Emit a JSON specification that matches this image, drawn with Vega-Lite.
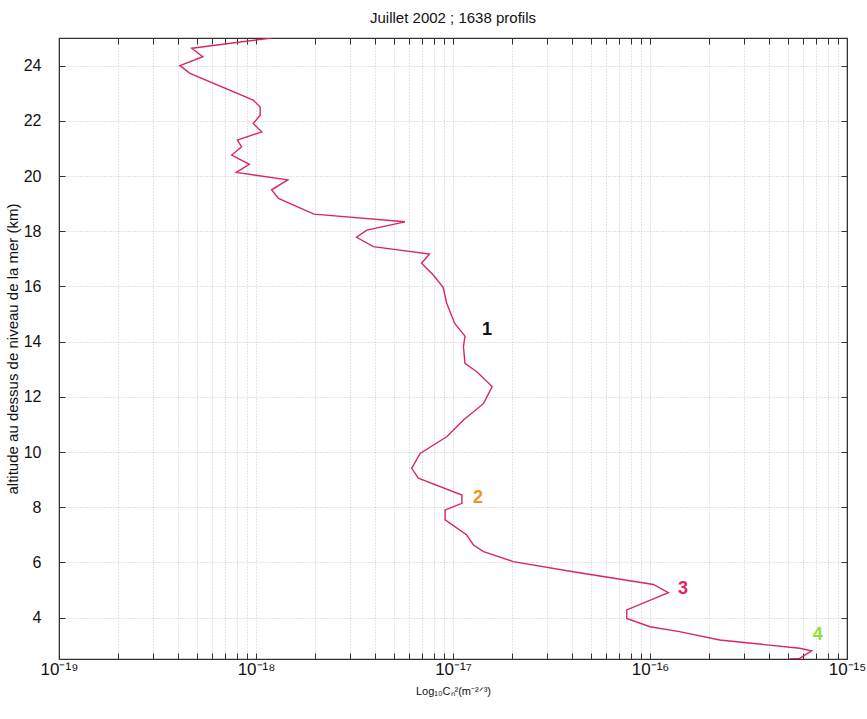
{
  "$schema": "https://vega.github.io/schema/vega-lite/v6.json",
  "autosize": "none",
  "width": 788,
  "height": 621,
  "padding": {"left": 59, "top": 38, "right": 20, "bottom": 60},
  "background": "white",
  "config": {
    "font": "Liberation Sans",
    "view": {"stroke": "#333333", "strokeWidth": 1.2}
  },
  "title": {"text": "Juillet 2002 ; 1638 profils", "fontSize": 15, "fontWeight": "normal", "font": "Liberation Sans", "offset": 12, "color": "#111"},
  "datasets": {
    "profil": [
      {"i": 1, "alt": 25.0, "c2n": 1.2e-18},
      {"i": 2, "alt": 24.63, "c2n": 4.72e-19},
      {"i": 3, "alt": 24.32, "c2n": 5.37e-19},
      {"i": 4, "alt": 24.0, "c2n": 4.11e-19},
      {"i": 5, "alt": 23.72, "c2n": 4.62e-19},
      {"i": 6, "alt": 22.75, "c2n": 9.68e-19},
      {"i": 7, "alt": 22.5, "c2n": 1.05e-18},
      {"i": 8, "alt": 22.2, "c2n": 1.05e-18},
      {"i": 9, "alt": 21.9, "c2n": 9.68e-19},
      {"i": 10, "alt": 21.6, "c2n": 1.07e-18},
      {"i": 11, "alt": 21.3, "c2n": 8.04e-19},
      {"i": 12, "alt": 21.06, "c2n": 8.45e-19},
      {"i": 13, "alt": 20.76, "c2n": 7.53e-19},
      {"i": 14, "alt": 20.42, "c2n": 9.25e-19},
      {"i": 15, "alt": 20.13, "c2n": 7.94e-19},
      {"i": 16, "alt": 19.86, "c2n": 1.45e-18},
      {"i": 17, "alt": 19.5, "c2n": 1.2e-18},
      {"i": 18, "alt": 19.19, "c2n": 1.3e-18},
      {"i": 19, "alt": 18.62, "c2n": 1.97e-18},
      {"i": 20, "alt": 18.34, "c2n": 5.7e-18},
      {"i": 21, "alt": 18.04, "c2n": 3.65e-18},
      {"i": 22, "alt": 17.78, "c2n": 3.24e-18},
      {"i": 23, "alt": 17.44, "c2n": 3.94e-18},
      {"i": 24, "alt": 17.17, "c2n": 7.59e-18},
      {"i": 25, "alt": 16.84, "c2n": 6.92e-18},
      {"i": 26, "alt": 16.41, "c2n": 7.94e-18},
      {"i": 27, "alt": 15.97, "c2n": 8.91e-18},
      {"i": 28, "alt": 15.39, "c2n": 9.29e-18},
      {"i": 29, "alt": 14.66, "c2n": 1.02e-17},
      {"i": 30, "alt": 14.2, "c2n": 1.15e-17},
      {"i": 31, "alt": 13.82, "c2n": 1.13e-17},
      {"i": 32, "alt": 13.21, "c2n": 1.15e-17},
      {"i": 33, "alt": 12.91, "c2n": 1.32e-17},
      {"i": 34, "alt": 12.37, "c2n": 1.58e-17},
      {"i": 35, "alt": 11.76, "c2n": 1.43e-17},
      {"i": 36, "alt": 11.16, "c2n": 1.13e-17},
      {"i": 37, "alt": 10.55, "c2n": 9.29e-18},
      {"i": 38, "alt": 9.95, "c2n": 6.81e-18},
      {"i": 39, "alt": 9.41, "c2n": 6.17e-18},
      {"i": 40, "alt": 9.05, "c2n": 6.67e-18},
      {"i": 41, "alt": 8.44, "c2n": 1.11e-17},
      {"i": 42, "alt": 8.14, "c2n": 1.11e-17},
      {"i": 43, "alt": 7.9, "c2n": 9.12e-18},
      {"i": 44, "alt": 7.54, "c2n": 9.12e-18},
      {"i": 45, "alt": 7.0, "c2n": 1.17e-17},
      {"i": 46, "alt": 6.63, "c2n": 1.27e-17},
      {"i": 47, "alt": 6.39, "c2n": 1.43e-17},
      {"i": 48, "alt": 6.03, "c2n": 2.02e-17},
      {"i": 49, "alt": 5.66, "c2n": 4.07e-17},
      {"i": 50, "alt": 5.2, "c2n": 1.04e-16},
      {"i": 51, "alt": 4.9, "c2n": 1.24e-16},
      {"i": 52, "alt": 4.28, "c2n": 7.62e-17},
      {"i": 53, "alt": 3.97, "c2n": 7.62e-17},
      {"i": 54, "alt": 3.67, "c2n": 1.0e-16},
      {"i": 55, "alt": 3.49, "c2n": 1.41e-16},
      {"i": 56, "alt": 3.19, "c2n": 2.26e-16},
      {"i": 57, "alt": 2.89, "c2n": 5.75e-16},
      {"i": 58, "alt": 2.8, "c2n": 6.61e-16},
      {"i": 59, "alt": 2.52, "c2n": 5.75e-16},
      {"i": 60, "alt": 2.5, "c2n": 5.13e-16}
    ],
    "labels": [
      {"label": "1", "alt": 14.42, "c2n": 1.49e-17},
      {"label": "2", "alt": 8.33, "c2n": 1.34e-17},
      {"label": "3", "alt": 5.04, "c2n": 1.47e-16},
      {"label": "4", "alt": 3.37, "c2n": 7.1e-16}
    ]
  },
  "layer": [
    {
      "data": {"name": "profil"},
      "mark": {"type": "line", "color": "#d8246e", "strokeWidth": 1.4, "clip": true},
      "encoding": {
        "x": {
          "field": "c2n", "type": "quantitative",
          "scale": {"type": "log", "domain": [1e-19, 1e-15], "nice": false},
          "axis": {
            "orient": "bottom",
            "values": [1e-19,2e-19,3e-19,4e-19,5e-19,6e-19,7e-19,8e-19,9e-19,1e-18,2e-18,3e-18,4e-18,5e-18,6e-18,7e-18,8e-18,9e-18,1e-17,2e-17,3e-17,4e-17,5e-17,6e-17,7e-17,8e-17,9e-17,1e-16,2e-16,3e-16,4e-16,5e-16,6e-16,7e-16,8e-16,9e-16,1e-15],
            "labelExpr": "abs(log(datum.value)/LN10 + 19) < 0.01 ? '10⁻¹⁹' : (abs(log(datum.value)/LN10 + 18) < 0.01 ? '10⁻¹⁸' : (abs(log(datum.value)/LN10 + 17) < 0.01 ? '10⁻¹⁷' : (abs(log(datum.value)/LN10 + 16) < 0.01 ? '10⁻¹⁶' : (abs(log(datum.value)/LN10 + 15) < 0.01 ? '10⁻¹⁵' : ''))))",
            "labelFontSize": 17,
            "labelColor": "#111",
            "labelPadding": 8,
            "labelOverlap": false,
            "labelFlush": false,
            "tickSize": -6,
            "tickColor": "#333",
            "domainColor": "#333",
            "grid": true,
            "gridColor": "#b8b8b8",
            "gridDash": [1, 2],
            "gridWidth": 0.8,
            "title": "Log₁₀Cₙ²(m⁻²ᐟ³)",
            "titleFontSize": 11,
            "titleFontWeight": "normal",
            "titleColor": "#111",
            "titlePadding": 8
          }
        },
        "y": {
          "field": "alt", "type": "quantitative",
          "scale": {"domain": [2.5, 25], "nice": false, "zero": false},
          "axis": {
            "orient": "left",
            "values": [4, 6, 8, 10, 12, 14, 16, 18, 20, 22, 24],
            "labelFontSize": 16,
            "labelColor": "#111",
            "labelPadding": 24,
            "tickSize": -6,
            "tickColor": "#333",
            "domainColor": "#333",
            "grid": true,
            "gridColor": "#b8b8b8",
            "gridDash": [1, 2],
            "gridWidth": 0.8,
            "title": "altitude au dessus de niveau de la mer (km)",
            "titleFontSize": 15,
            "titleFontWeight": "normal",
            "titleColor": "#111",
            "titlePadding": 3
          }
        },
        "order": {"field": "i", "type": "quantitative"}
      }
    },
    {
      "data": {"name": "profil"},
      "mark": {"type": "line", "opacity": 0},
      "encoding": {
        "x": {
          "field": "c2n", "type": "quantitative",
          "axis": {
            "orient": "top",
            "values": [1e-19,2e-19,3e-19,4e-19,5e-19,6e-19,7e-19,8e-19,9e-19,1e-18,2e-18,3e-18,4e-18,5e-18,6e-18,7e-18,8e-18,9e-18,1e-17,2e-17,3e-17,4e-17,5e-17,6e-17,7e-17,8e-17,9e-17,1e-16,2e-16,3e-16,4e-16,5e-16,6e-16,7e-16,8e-16,9e-16,1e-15],
            "labels": false, "grid": false, "tickSize": -6, "tickColor": "#333", "domainColor": "#333", "title": null
          }
        },
        "y": {
          "field": "alt", "type": "quantitative",
          "axis": {
            "orient": "right",
            "values": [4, 6, 8, 10, 12, 14, 16, 18, 20, 22, 24],
            "labels": false, "grid": false, "tickSize": -6, "tickColor": "#333", "domainColor": "#333", "title": null
          }
        },
        "order": {"field": "i", "type": "quantitative"}
      }
    },
    {
      "data": {"name": "labels"},
      "mark": {"type": "text", "fontSize": 18, "fontWeight": "bold", "font": "Liberation Sans", "align": "center", "baseline": "middle"},
      "encoding": {
        "x": {"field": "c2n", "type": "quantitative", "axis": null},
        "y": {"field": "alt", "type": "quantitative", "axis": null},
        "text": {"field": "label"},
        "color": {
          "field": "label", "type": "nominal",
          "scale": {"domain": ["1", "2", "3", "4"], "range": ["#111111", "#f0941e", "#e0245e", "#8ee03a"]},
          "legend": null
        }
      }
    }
  ],
  "resolve": {"axis": {"x": "independent", "y": "independent"}}
}
